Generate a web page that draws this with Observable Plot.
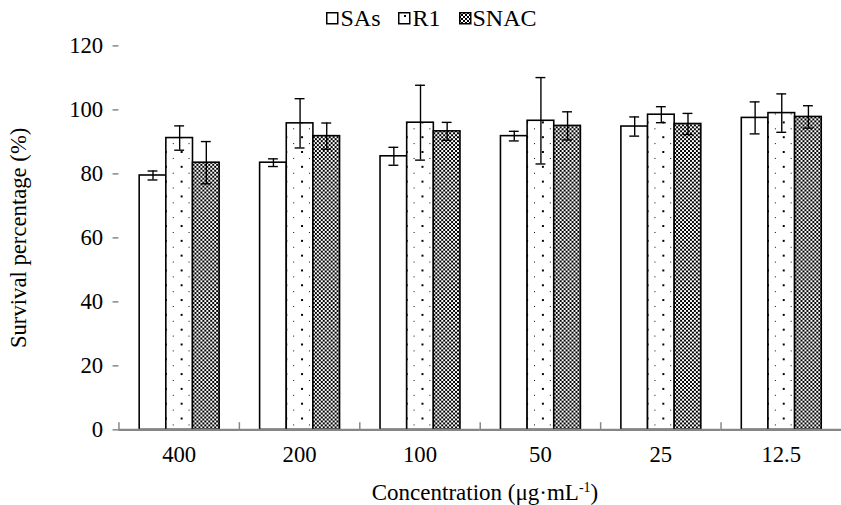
<!DOCTYPE html>
<html>
<head>
<meta charset="utf-8">
<script src="https://cdn.jsdelivr.net/npm/d3@7"></script>
<script src="https://cdn.jsdelivr.net/npm/@observablehq/plot@0.6"></script>
<style>
  html, body { margin: 0; padding: 0; background: white; overflow: hidden; }
  #wrap { position: relative; width: 841px; height: 505px; overflow: hidden; font-family: "Liberation Serif", "Times New Roman", serif; color: black; }
  #chart svg { display: block; }
  #legend { position: absolute; top: 4px; left: 0; width: 841px; display: flex; justify-content: center; gap: 18px; font-size: 24px; line-height: 28px; padding-left: 22px; box-sizing: border-box; }
  #legend .item { display: flex; align-items: center; gap: 1px; }
  #legend svg { display: block; }
  #xlabel { position: absolute; top: 479px; left: 119px; width: 732px; text-align: center; font-size: 23px; line-height: 28px; }
  #xlabel sup { font-size: 14px; vertical-align: 8px; line-height: 0; }
</style>
</head>
<body>
<div id="wrap">
  <svg width="0" height="0" style="position:absolute">
    <defs>
      <pattern id="pat-dots" patternUnits="userSpaceOnUse" width="16" height="15">
        <rect width="16" height="15" fill="white"/>
        <rect x="6" y="3" width="2" height="2" fill="black"/>
        <rect x="14" y="10" width="1" height="1" fill="black"/>
      </pattern>
      <pattern id="pat-check" patternUnits="userSpaceOnUse" width="4" height="4">
        <rect width="4" height="4" fill="white"/>
        <rect x="0" y="0" width="2" height="2" fill="black"/>
        <rect x="2" y="2" width="2" height="2" fill="black"/>
      </pattern>
    </defs>
  </svg>
  <div id="chart"></div>
  <div id="legend"></div>
  <div id="xlabel">Concentration (μg·mL<sup>-1</sup>)</div>
</div>
<script>
// ---- data ----
const concentrations = ["400", "200", "100", "50", "25", "12.5"];
const seriesNames = ["SAs", "R1", "SNAC"];
const sasValues  = [79.5, 83.5, 85.5, 91.8, 94.8, 97.5];
const sasErrors  = [1.4, 1.2, 2.8, 1.5, 3.0, 5.0];
const r1Values   = [91.2, 95.8, 96.0, 96.6, 98.5, 99.0];
const r1Errors   = [3.8, 7.7, 11.7, 13.5, 2.5, 6.0];
const snacValues = [83.5, 91.8, 93.3, 95.0, 95.6, 97.8];
const snacErrors = [6.6, 4.1, 2.8, 4.4, 3.3, 3.5];
const yTicks = [0, 20, 40, 60, 80, 100, 120];

// ---- build table ----
const valuesBySeries = {SAs: sasValues, R1: r1Values, SNAC: snacValues};
const errorsBySeries = {SAs: sasErrors, R1: r1Errors, SNAC: snacErrors};
const rows = [];
concentrations.forEach((c, i) => {
  seriesNames.forEach(s => {
    const v = valuesBySeries[s][i], e = errorsBySeries[s][i];
    rows.push({conc: c, series: s, value: v, lo: v - e, hi: v + e});
  });
});

const fills = {SAs: "white", R1: "url(#pat-dots)", SNAC: "url(#pat-check)"};
const axisGray = "#868686";
const W = 852, H = 505, mL = 119, mR = 0, mT = 46, mB = 70;
const plotH = H - mT - mB;

const chart = Plot.plot({
  width: W,
  height: H,
  marginLeft: mL,
  marginRight: mR,
  marginTop: mT,
  marginBottom: mB,
  style: {fontFamily: "Liberation Serif, Times New Roman, serif", fontSize: "23px", color: "black", background: "white", overflow: "visible"},
  fx: {domain: concentrations, padding: 0, label: null},
  x: {domain: seriesNames, paddingInner: 0, paddingOuter: 0.74, axis: null},
  y: {domain: [0, 120], insetTop: 0, insetBottom: 0},
  color: {type: "identity"},
  marks: [
    Plot.barY(rows, {fx: "conc", x: "series", y: "value", fill: d => fills[d.series], stroke: "black", strokeWidth: 1.6}),
    Plot.ruleX(rows, {fx: "conc", x: "series", y1: "lo", y2: "hi", stroke: "black", strokeWidth: 1.4}),
    Plot.tickY(rows, {fx: "conc", x: "series", y: "lo", stroke: "black", strokeWidth: 1.4, insetLeft: 8.5, insetRight: 8.5}),
    Plot.tickY(rows, {fx: "conc", x: "series", y: "hi", stroke: "black", strokeWidth: 1.4, insetLeft: 8.5, insetRight: 8.5}),
    Plot.frame({anchor: "left", stroke: axisGray, strokeWidth: 1.5, insetTop: plotH - 7}),
    Plot.ruleY([0], {stroke: axisGray, strokeWidth: 2.2}),
    Plot.axisY({ticks: yTicks, tickSize: 6, tickPadding: 10, stroke: axisGray, strokeWidth: 1.5, fill: "black", line: true,
      label: "Survival percentage (%)", labelAnchor: "center", labelArrow: "none", labelOffset: 110}),
    Plot.axisFx({anchor: "bottom", tickSize: 0, tickPadding: 16, fill: "black", label: null})
  ]
});
document.getElementById("chart").appendChild(chart);

// ---- legend ----
const legend = document.getElementById("legend");
seriesNames.forEach(s => {
  const item = document.createElement("div");
  item.className = "item";
  item.innerHTML = `<svg width="13" height="13"><rect x="0.75" y="0.75" width="11" height="11" fill="${fills[s]}" stroke="black" stroke-width="1.5"/></svg><span>${s}</span>`;
  legend.appendChild(item);
});
</script>
</body>
</html>
